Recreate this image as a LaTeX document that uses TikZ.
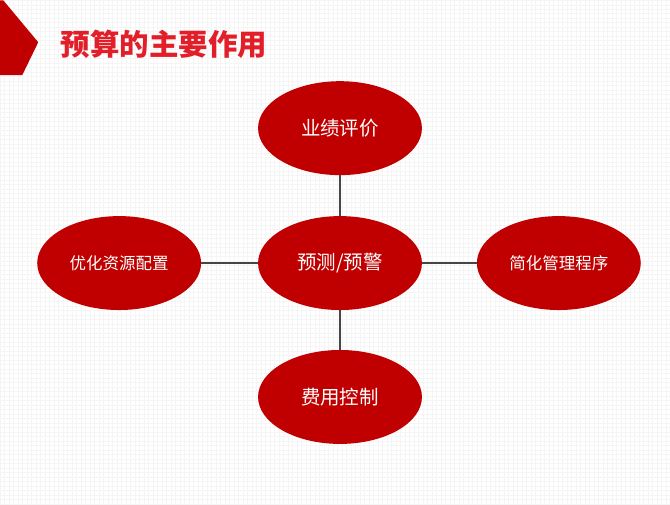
\documentclass[tikz,border=0pt]{standalone}
\usepackage{fontspec}
\newfontfamily\cjk{Noto Sans CJK SC}
\usetikzlibrary{shapes.geometric}
\usetikzlibrary{positioning}
\definecolor{rouge}{RGB}{192,0,0}
\definecolor{titre}{RGB}{226,30,40}
\definecolor{trait}{RGB}{70,70,70}
\tikzstyle{bulle} = [ellipse,fill=rouge,text=white,minimum width=164pt,minimum height=94pt,inner sep=0pt,font=\cjk\fontsize{19.5}{22}\selectfont]
\tikzstyle{petite} = [font=\cjk\fontsize{16.5}{19}\selectfont]
\tikzstyle{lien} = [draw=trait,line width=1.4pt]

\begin{document}
\begin{tikzpicture}[x=1pt,y=-1pt]
%% fond quadrille
	\fill[white] (0,0) rectangle (670,504);
	\draw[black!4,line width=0.5pt,step=4.5pt] (0,0) grid (670,504);
	\useasboundingbox (0,0) rectangle (670,504);

%% bandeau et titre
	\fill[rouge] (0,0) -- (3,0) -- (38,42) -- (22,75) -- (0,75) -- cycle;
	\node[anchor=west,text=titre,font=\cjk\bfseries\fontsize{29.5}{33}\selectfont] (titre) at (57,44) {预算的主要作用};

%% les ellipses
	\node[bulle] (centre) at (340,263) {预测/预警};
	\node[bulle] (haut) at (340,128) {业绩评价};
	\node[bulle] (bas) at (340,397) {费用控制};
	\node[bulle,petite] (gauche) at (119,263) {优化资源配置};
	\node[bulle,petite] (droite) at (559,263) {简化管理程序};

%% liaisons
	\draw[lien] (centre) -- (haut);
	\draw[lien] (centre) -- (bas);
	\draw[lien] (centre) -- (gauche);
	\draw[lien] (centre) -- (droite);

\end{tikzpicture}
\end{document}
